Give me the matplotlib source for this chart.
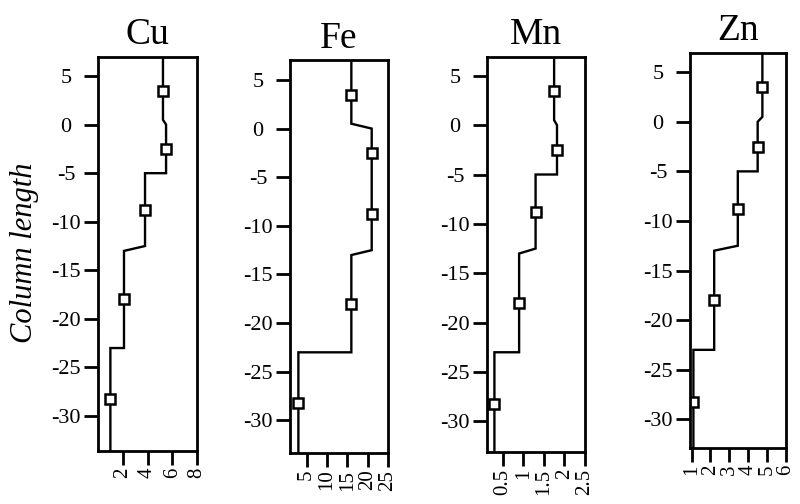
import matplotlib
matplotlib.use("Agg")
import matplotlib.pyplot as plt

plt.rcParams['font.family'] = ['Liberation Serif', 'DejaVu Serif']

# Layer mid-depths and measured concentrations
depth_mid = [3.5, -2.5, -8.75, -18.0, -28.25]
cu = [5.25, 5.5, 3.8, 2.1, 1.0]
fe = [16.0, 21.0, 21.0, 16.0, 3.0]
mn = [1.75, 1.82, 1.3, 0.9, 0.3]
zn = [4.75, 4.5, 3.45, 2.2, 1.1]

# Layer boundaries (upper/lower edge of each transition)
bound_upper = [0.5, -5.0, -12.5, -23.0]
bound_lower = [0.0, -5.0, -13.0, -23.0]
col_top, col_bottom = 7.0, -33.6

names = ["Cu", "Fe", "Mn", "Zn"]
series = [cu, fe, mn, zn]
xlims = [(0, 8), (0.94, 25), (0.12, 2.5), (0.92, 6)]
xticks = [[2, 4, 6, 8], [5, 10, 15, 20, 25], [0.5, 1, 1.5, 2, 2.5], [1, 2, 3, 4, 5, 6]]
xticklabels = [["2", "4", "6", "8"], ["5", "10", "15", "20", "25"],
               ["0.5", "1", "1.5", "2", "2.5"], ["1", "2", "3", "4", "5", "6"]]
yticks = [5, 0, -5, -10, -15, -20, -25, -30]
yticklabels = ["5", "0", "-5", "-10", "-15", "-20", "-25", "-30"]
ylims = [(-33.6, 6.96), (-33.35, 7.05), (-33.1, 6.9), (-32.9, 6.94)]
# axes boxes in pixels: left, right, top, bottom
boxes = [(98, 197, 57, 451), (290, 388, 60, 453), (487, 585, 57, 452), (690, 786, 53, 448)]

W, H = 800, 504
fig = plt.figure(figsize=(W / 100, H / 100), dpi=100)

for k, (name, vals) in enumerate(zip(names, series)):
    l, r, t, b = boxes[k]
    ax = fig.add_axes([l / W, 1 - b / H, (r - l) / W, (b - t) / H])

    # step profile through the layers
    px, py = [vals[0]], [col_top]
    for i in range(4):
        px += [vals[i], vals[i + 1]]
        py += [bound_upper[i], bound_lower[i]]
    px.append(vals[-1])
    py.append(col_bottom)
    ax.plot(px, py, color="black", lw=1.7, solid_joinstyle="miter")
    ax.plot(vals, depth_mid, linestyle="none", marker="s", markersize=7.5,
            markerfacecolor="white", markeredgecolor="black", markeredgewidth=1.8)

    ax.set_xlim(*xlims[k])
    ax.set_ylim(*ylims[k])
    ax.set_yticks(yticks)
    ax.set_yticklabels(yticklabels, fontsize=16)
    for lab in ax.get_yticklabels():
        lab.set_horizontalalignment("center")
    ax.set_xticks(xticks[k])
    ax.set_xticklabels(xticklabels[k], rotation=90, fontsize=15)
    ax.tick_params(axis="y", direction="out", length=10, width=2, pad=13, color="black")
    ax.tick_params(axis="x", direction="out", length=10, width=2, pad=2, color="black")
    for sp in ax.spines.values():
        sp.set_linewidth(2)
        sp.set_color("black")
    ax.set_title(name, fontsize=27, pad=9)

fig.text(25 / W, 1 - 253 / H, "Column length", rotation=90, fontsize=22,
         style="italic", ha="center", va="center")

fig.savefig("out.png", dpi=100, facecolor="white")
